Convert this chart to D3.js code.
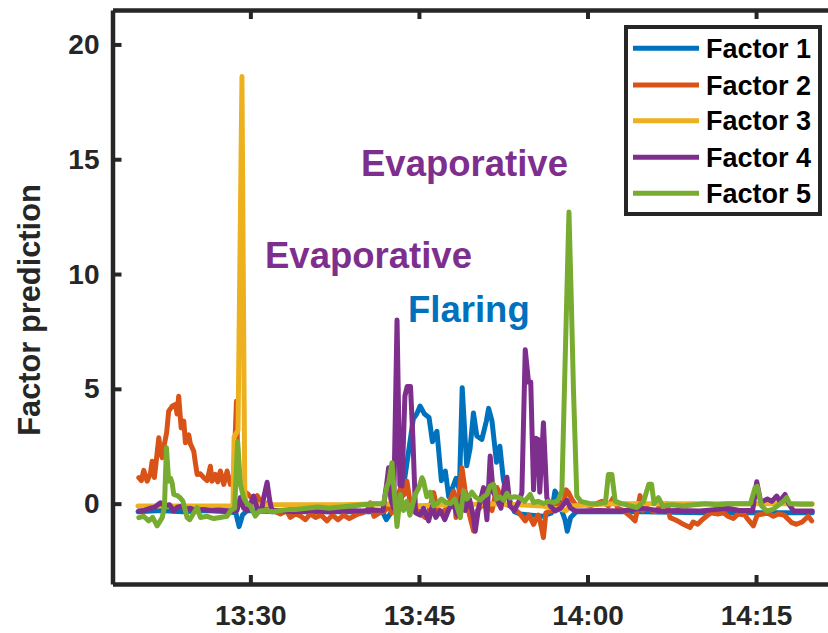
<!DOCTYPE html>
<html><head><meta charset="utf-8">
<script src="https://cdn.jsdelivr.net/npm/d3@7"></script>
<style>
body{margin:0;background:#fff;}
svg{display:block;}
text{font-family:"Liberation Sans",Arial,Helvetica,sans-serif;font-weight:bold;}
</style>
</head><body>
<svg id="chart" width="828" height="633"></svg>
<script>
// ---- data (minutes after 13:20, factor prediction) ----
const seriesNames = ["Factor 1","Factor 2","Factor 3","Factor 4","Factor 5"];
const seriesColors = ["#0072BD","#D95319","#EDB120","#7E2F8E","#77AC30"];
const xTickLabels = ["13:30","13:45","14:00","14:15"];
const yTickValues = [0,5,10,15,20];
const annotationLabels = ["Evaporative","Evaporative","Flaring"];

const factor1 = [[0,-0.35],[2,-0.3],[4,-0.35],[6,-0.3],[8,-0.35],[8.7,-0.4],[9.0,-1.0],[9.3,-0.5],[9.7,-0.3],[12,-0.35],[15,-0.35],[18,-0.35],[21,-0.35],[21.8,-0.4],[22.1,-0.7],[22.5,-0.4],[23.0,-0.2],[23.5,0.3],[24.0,2.0],[24.5,3.7],[24.8,3.9],[25.1,4.25],[25.5,3.9],[25.9,3.75],[26.2,2.7],[26.6,3.15],[27.0,1.0],[27.35,1.42],[27.65,0.3],[28.0,0.7],[28.3,1.1],[28.6,0.6],[28.85,5.05],[29.25,1.65],[29.55,2.4],[29.85,3.95],[30.15,2.95],[30.6,2.8],[31.0,3.6],[31.2,4.15],[31.5,3.6],[31.9,1.8],[32.2,2.5],[32.5,1.1],[32.8,0.4],[33.1,0.1],[33.5,-0.35],[34,-0.45],[35,-0.5],[36,-0.55],[36.8,-0.4],[37.1,0.55],[37.4,0.3],[37.7,-0.3],[38.0,-0.7],[38.2,-1.2],[38.5,-0.6],[39,-0.35],[42,-0.35],[45,-0.35],[50,-0.4],[55,-0.4],[60,-0.4]];

const factor2 = [[0.07,1.13],[0.3,1.0],[0.51,1.45],[0.81,0.98],[1.1,1.3],[1.26,1.85],[1.46,1.14],[1.7,2.2],[1.85,2.87],[2.0,2.3],[2.15,2.0],[2.35,2.6],[2.55,3.1],[2.73,4.03],[3.04,4.24],[3.33,4.32],[3.48,3.9],[3.62,4.68],[3.84,3.3],[4.07,3.6],[4.22,2.65],[4.51,3.0],[4.66,2.6],[4.96,2.29],[5.1,1.8],[5.26,1.27],[5.55,1.3],[5.85,1.13],[6.15,1.0],[6.44,1.63],[6.59,0.98],[6.89,1.27],[7.09,0.95],[7.33,1.42],[7.63,0.84],[7.93,1.42],[8.22,0.84],[8.5,1.0],[8.76,4.46],[8.9,1.5],[9.11,0.84],[9.4,0.55],[9.7,0.45],[10.0,0.3],[10.29,0.19],[10.6,0.35],[11.04,-0.03],[11.3,-0.2],[11.6,0.05],[12.0,-0.3],[12.67,-0.45],[13.2,-0.3],[13.56,-0.6],[14.0,-0.45],[14.45,-0.54],[14.9,-0.7],[15.34,-0.45],[15.8,-0.6],[16.3,-0.5],[16.82,-0.75],[17.3,-0.5],[17.8,-0.7],[18.3,-0.5],[18.8,-0.65],[19.49,-0.47],[20.0,-0.4],[20.4,-0.3],[20.67,0.04],[21.0,-0.55],[21.5,-0.4],[22.0,-0.3],[22.3,-0.1],[22.6,-0.4],[23.0,0.2],[23.49,0.84],[23.7,0.4],[23.93,0.98],[24.2,0.1],[24.5,-0.2],[24.9,-0.3],[25.3,-0.5],[25.56,-0.6],[25.9,-0.3],[26.31,0.48],[26.6,-0.2],[27.0,-0.4],[27.5,-0.2],[28.08,0.55],[28.3,-0.6],[28.83,1.56],[29.1,0.6],[29.4,-0.3],[29.86,-1.19],[30.2,-0.3],[30.75,0.0],[31.1,-0.1],[31.5,-0.3],[31.94,0.7],[32.2,0.4],[32.6,0.0],[33.1,-0.1],[33.41,-0.2],[33.9,-0.4],[34.46,-0.75],[34.8,-0.5],[35.2,-0.9],[35.6,-0.5],[35.8,-0.8],[36.08,-1.48],[36.3,-0.4],[36.8,-0.3],[37.3,-0.1],[37.87,0.0],[38.1,0.6],[38.31,0.48],[38.6,0.2],[39.0,-0.1],[39.5,0.0],[40.24,-0.1],[40.83,0.0],[41.3,0.1],[41.86,-0.1],[42.31,0.26],[42.7,-0.2],[43.2,-0.3],[43.79,-0.54],[44.24,-0.75],[44.68,0.35],[44.9,-0.3],[45.3,-0.2],[46.0,-0.35],[46.5,-0.1],[47.06,0.0],[47.35,-0.61],[47.8,-0.7],[48.2,-0.8],[48.53,-0.9],[49.13,-1.04],[49.4,-0.8],[49.8,-0.9],[50.2,-0.7],[50.61,-0.54],[51.0,-0.4],[51.6,-0.45],[52.09,-0.39],[52.5,-0.55],[52.98,-0.65],[53.4,-0.45],[54.0,-0.5],[54.3,-0.7],[54.76,-0.97],[55.1,-0.5],[55.6,-0.45],[56.0,-0.4],[56.54,-0.55],[57.0,-0.45],[57.5,-0.5],[58.18,-0.83],[58.6,-0.9],[59.1,-0.8],[59.65,-0.55],[59.95,-0.75]];

const factor3 = [[0,-0.1],[4,-0.1],[8.45,-0.1],[8.55,2.9],[8.9,3.2],[9.25,18.6],[9.5,0.5],[9.6,-0.05],[12,-0.05],[18,-0.05],[22,0.0],[24,-0.1],[28,-0.05],[32,0.0],[36,-0.1],[38.1,-0.3],[38.4,-0.1],[42,0.0],[48,0.0],[54,0.0],[60,0.0]];

const factor4 = [[0.07,-0.32],[0.5,-0.3],[1.11,-0.2],[1.5,-0.15],[2.0,0.04],[2.35,-0.1],[2.8,-0.05],[3.18,-0.32],[3.5,-0.15],[3.77,-0.12],[4.2,-0.25],[4.66,-0.2],[5.2,-0.3],[5.8,-0.25],[6.5,-0.3],[7.2,-0.28],[8.22,-0.32],[8.8,-0.3],[9.11,0.27],[9.4,-0.2],[9.7,-0.3],[10.1,0.1],[10.29,0.33],[10.6,-0.2],[11.0,-0.3],[11.2,0.3],[11.49,0.93],[11.7,0.2],[11.9,-0.3],[12.5,-0.3],[14,-0.35],[15.5,-0.3],[17,-0.35],[18.5,-0.3],[20,-0.32],[21,-0.28],[21.8,-0.3],[22.16,0.98],[22.3,1.56],[22.5,0.2],[22.75,-0.2],[23.05,8.0],[23.3,0.8],[23.49,0.77],[23.75,4.68],[23.95,5.1],[24.25,5.1],[24.45,3.0],[24.7,-0.4],[25.1,-0.5],[25.4,-0.2],[25.86,-0.75],[26.2,-0.1],[26.5,-0.6],[26.9,-0.3],[27.3,-0.7],[27.7,-0.2],[28.08,0.0],[28.4,-0.5],[28.83,0.33],[29.1,-0.3],[29.5,0.2],[29.86,-0.6],[30.01,-1.2],[30.3,-0.2],[30.75,0.7],[31.05,-0.7],[31.34,2.07],[31.6,0.5],[31.94,0.2],[32.3,-0.2],[32.6,0.8],[32.83,1.15],[33.1,-0.1],[33.5,-0.3],[33.9,0.1],[34.16,0.48],[34.46,6.7],[34.75,5.3],[34.95,5.3],[35.2,0.6],[35.4,2.85],[35.6,2.8],[35.75,0.5],[36.08,3.52],[36.38,0.26],[36.7,-0.1],[37.12,-0.32],[37.6,-0.2],[38.17,0.15],[38.5,-0.2],[38.9,-0.32],[41,-0.3],[43,-0.32],[44.7,-0.2],[45.6,-0.25],[46.5,-0.32],[48,-0.3],[50,-0.32],[51.5,-0.25],[52.5,-0.2],[53.5,-0.3],[54.7,-0.3],[55.06,0.95],[55.4,0.1],[55.65,0.11],[56.0,0.2],[56.4,0.1],[56.84,0.33],[57.1,0.1],[57.58,0.4],[57.9,0.0],[58.33,-0.32],[60,-0.32]];

const factor5 = [[0.07,-0.61],[0.5,-0.55],[0.95,-0.75],[1.3,-0.6],[1.7,-0.97],[2.15,-0.61],[2.35,-0.17],[2.53,2.43],[2.73,0.98],[2.9,1.1],[3.04,0.9],[3.18,0.4],[3.5,0.35],[3.77,0.25],[4.0,0.1],[4.37,-0.61],[4.6,-0.7],[5.26,-0.17],[5.55,-0.6],[6.15,-0.55],[6.74,-0.65],[7.3,-0.6],[7.93,-0.55],[8.22,-0.32],[8.6,-0.2],[8.87,2.7],[9.11,0.84],[9.4,0.26],[9.7,0.0],[10.0,-0.1],[10.44,-0.54],[10.8,-0.32],[11.3,-0.3],[12.0,-0.35],[12.67,-0.3],[13.5,-0.25],[14.15,-0.25],[15,-0.2],[16,-0.15],[17,-0.2],[18,-0.15],[19,-0.1],[20,-0.05],[21.0,0.0],[21.85,0.0],[22.16,0.77],[22.3,0.9],[22.6,1.78],[22.8,0.5],[23.05,-1.0],[23.34,0.4],[23.63,-0.3],[23.9,0.1],[24.2,-0.5],[24.67,0.4],[25.0,0.7],[25.27,1.13],[25.41,0.98],[25.7,0.3],[26.0,0.5],[26.3,-0.1],[26.6,0.0],[27.0,0.2],[27.4,0.05],[27.8,0.0],[28.2,0.2],[28.68,-0.61],[28.97,0.55],[29.27,0.2],[29.56,0.4],[29.72,0.5],[30.0,0.3],[30.46,0.15],[30.75,0.3],[31.05,0.4],[31.34,0.77],[31.64,0.84],[31.9,0.2],[32.2,0.3],[32.53,0.15],[32.83,0.45],[33.1,0.25],[33.5,0.3],[34.0,0.25],[34.4,0.1],[34.9,0.4],[35.2,0.05],[35.6,0.1],[36.1,0.0],[36.5,0.1],[37.0,0.05],[37.4,0.15],[37.72,0.55],[38.02,6.4],[38.35,12.7],[38.55,9.0],[38.75,4.97],[39.05,0.33],[39.4,0.1],[40.24,0.0],[41.0,0.0],[41.6,0.05],[41.86,1.27],[42.17,1.27],[42.46,0.11],[43.0,0.0],[43.5,-0.05],[44.39,-0.17],[45.0,0.1],[45.45,0.84],[45.7,0.84],[45.93,0.0],[46.31,0.26],[46.7,-0.1],[47.5,-0.05],[48.5,-0.1],[49.5,-0.05],[50.5,0.0],[51.5,-0.05],[52.5,0.0],[53.5,0.0],[54.5,0.0],[54.91,0.7],[55.1,0.75],[55.5,-0.1],[55.95,-0.32],[56.5,-0.25],[57.43,0.1],[57.73,0.26],[58.0,0.0],[59.0,-0.03],[59.95,-0.03]];

const allSeries = [factor1, factor2, factor3, factor4, factor5];

// ---- drawing ----
const BASE = new Date(2000, 0, 1, 13, 20, 0);
const at = m => new Date(BASE.getTime() + m * 60000);
const parseTick = s => { const [h, mm] = s.split(":").map(Number); return new Date(2000, 0, 1, h, mm, 0); };

const svg = d3.select("#chart");
const L = 112.5, R = 830, T = 10, B = 584;
const axisColor = "#262626";

const x = d3.scaleTime().domain([at(-2.27), at(61.58)]).range([L, R]);
const y = d3.scaleLinear().domain([-3.5, 21.5]).range([B, T]);

svg.append("defs").append("clipPath").attr("id", "clip")
  .append("rect").attr("x", L).attr("y", T).attr("width", R - L).attr("height", B - T);

const line = d3.line().x(d => x(at(d[0]))).y(d => y(d[1]));
const plot = svg.append("g").attr("clip-path", "url(#clip)");
allSeries.forEach((s, i) => {
  plot.append("path").datum(s)
    .attr("fill", "none")
    .attr("stroke", seriesColors[i])
    .style("stroke-width", "5px")
    .attr("stroke-linejoin", "round")
    .attr("stroke-linecap", "round")
    .attr("d", line);
});

function styleAxis(g, fs) {
  g.select(".domain").attr("stroke", axisColor).style("stroke-width", "4.5px");
  g.selectAll(".tick line").attr("stroke", axisColor).style("stroke-width", "4px");
  g.selectAll(".tick text").attr("fill", axisColor).style("font-size", fs + "px")
    .style("font-family", '"Liberation Sans",Arial,sans-serif').style("font-weight", "bold");
}

const xTickDates = xTickLabels.map(parseTick);
const gx = svg.append("g").attr("transform", `translate(0,${B})`)
  .call(d3.axisBottom(x).tickValues(xTickDates).tickFormat(d3.timeFormat("%H:%M"))
    .tickSizeInner(-9).tickSizeOuter(0).tickPadding(21));
styleAxis(gx, 28);

const gxt = svg.append("g").attr("transform", `translate(0,${T})`)
  .call(d3.axisTop(x).tickValues(xTickDates).tickFormat("").tickSizeInner(-9).tickSizeOuter(0));
styleAxis(gxt, 28);

const gy = svg.append("g").attr("transform", `translate(${L},0)`)
  .call(d3.axisLeft(y).tickValues(yTickValues).tickSizeInner(-9).tickSizeOuter(0).tickPadding(13));
styleAxis(gy, 28);

svg.append("text")
  .attr("transform", "translate(40,310) rotate(-90)")
  .attr("text-anchor", "middle")
  .attr("fill", axisColor)
  .style("font-size", "30.8px")
  .text("Factor prediction");

// annotations
const annPos = [[361, 176], [265, 268], [408, 322]];
const annColors = [seriesColors[3], seriesColors[3], seriesColors[0]];
annotationLabels.forEach((t, i) => {
  svg.append("text").attr("x", annPos[i][0]).attr("y", annPos[i][1])
    .attr("fill", annColors[i]).style("font-size", "36.5px").text(t);
});

// legend
const lg = svg.append("g");
lg.append("rect").attr("x", 626).attr("y", 27).attr("width", 194).attr("height", 187)
  .attr("fill", "#fff").attr("stroke", "#262626").style("stroke-width", "4px");
const rowY = [48.3, 85, 120.7, 157.3, 193.3];
seriesNames.forEach((n, i) => {
  lg.append("line").attr("x1", 633).attr("x2", 699).attr("y1", rowY[i]).attr("y2", rowY[i])
    .attr("stroke", seriesColors[i]).style("stroke-width", "5px");
  lg.append("text").attr("x", 706).attr("y", rowY[i] + 9.5).attr("fill", "#000")
    .style("font-size", "27px").text(n);
});
</script>
</body></html>
